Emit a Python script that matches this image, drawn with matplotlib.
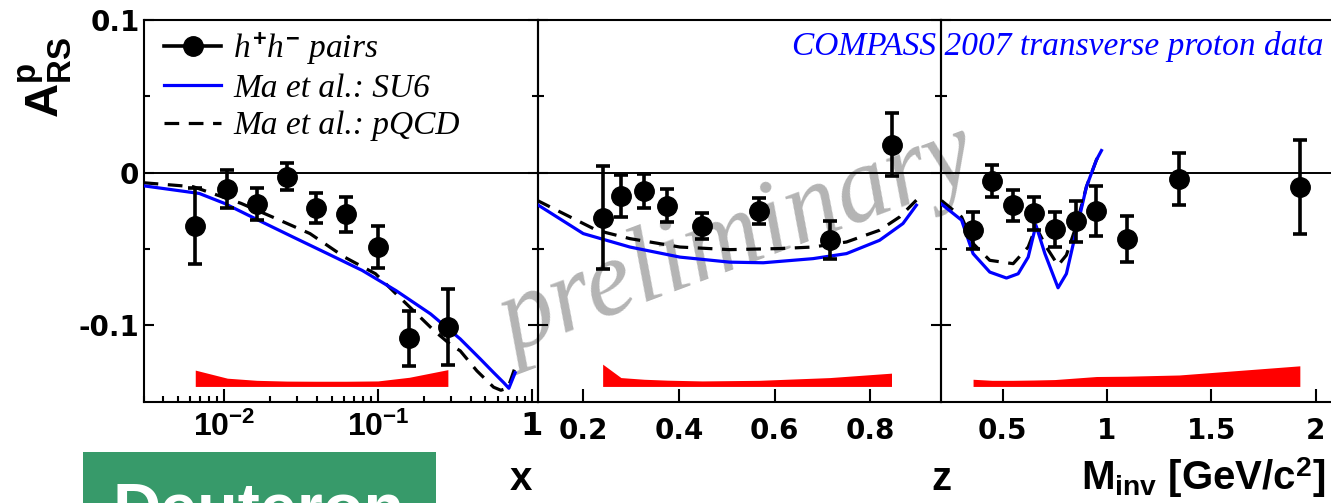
import matplotlib
matplotlib.use('Agg')
import matplotlib.pyplot as plt
from matplotlib.patches import Rectangle
from matplotlib.lines import Line2D
from matplotlib.ticker import FixedLocator, FixedFormatter, LogLocator, NullFormatter

# ---------------- data ----------------
# panel 1 : x
x_bins = [0.0065, 0.0105, 0.0163, 0.0256, 0.0397, 0.0623, 0.100, 0.160, 0.285]
x_asym = [-0.035, -0.0107, -0.0206, -0.0026, -0.023, -0.0272, -0.0487, -0.1083, -0.1009]
x_err = [0.025, 0.0125, 0.0103, 0.009, 0.0097, 0.0115, 0.0137, 0.018, 0.025]
x_syst = [0.0107, 0.0054, 0.0040, 0.0035, 0.0034, 0.0034, 0.0036, 0.0060, 0.0110]
x_su6 = [0.003, 0.0069, 0.010, 0.0167, 0.028, 0.047, 0.079, 0.131, 0.22, 0.343, 0.464, 0.566, 0.657, 0.71, 0.78]
a_su6_x = [-0.0086, -0.0136, -0.020, -0.0311, -0.0421, -0.053, -0.064, -0.0772, -0.0925, -0.1089, -0.1221, -0.131, -0.1375, -0.1412, -0.131]
x_pqcd = [0.003, 0.0063, 0.0129, 0.0205, 0.0362, 0.0607, 0.0965, 0.131, 0.170, 0.232, 0.30, 0.343, 0.44, 0.565, 0.63, 0.70, 0.77]
a_pqcd_x = [-0.0066, -0.0092, -0.0201, -0.0289, -0.0399, -0.0553, -0.0662, -0.0793, -0.0903, -0.1035, -0.113, -0.1167, -0.1298, -0.1405, -0.1425, -0.141, -0.129]

# panel 2 : z
z_bins = [0.2405, 0.2787, 0.327, 0.376, 0.448, 0.5675, 0.715, 0.844]
z_asym = [-0.0294, -0.0153, -0.0118, -0.0217, -0.0349, -0.0252, -0.0443, 0.0182]
z_err = [0.0335, 0.0139, 0.0112, 0.0107, 0.0086, 0.0085, 0.0124, 0.0206]
z_syst = [0.0146, 0.0058, 0.0047, 0.0041, 0.0036, 0.0040, 0.0058, 0.0087]
z_su6 = [0.1027, 0.2, 0.2975, 0.402, 0.506, 0.576, 0.68, 0.75, 0.819, 0.868, 0.896]
a_su6_z = [-0.0206, -0.0399, -0.0487, -0.0553, -0.0586, -0.059, -0.0563, -0.053, -0.0443, -0.0333, -0.0213]
z_pqcd = [0.1027, 0.158, 0.228, 0.2975, 0.402, 0.506, 0.61, 0.68, 0.75, 0.819, 0.861, 0.896]
a_pqcd_z = [-0.018, -0.0267, -0.0377, -0.0432, -0.0487, -0.0504, -0.0497, -0.0487, -0.0454, -0.0377, -0.029, -0.018]

# panel 3 : M_inv
m_bins = [0.359, 0.450, 0.548, 0.650, 0.750, 0.850, 0.950, 1.094, 1.346, 1.924]
m_asym = [-0.0377, -0.0055, -0.0213, -0.0267, -0.0372, -0.0318, -0.0252, -0.0432, -0.0041, -0.0096]
m_err = [0.012, 0.0104, 0.0102, 0.0107, 0.0113, 0.0135, 0.0165, 0.015, 0.0172, 0.0308]
m_syst = [0.0047, 0.0040, 0.0040, 0.0042, 0.0045, 0.0055, 0.0065, 0.0067, 0.0075, 0.0135]
m_su6 = [0.208, 0.304, 0.359, 0.439, 0.519, 0.575, 0.623, 0.66, 0.703, 0.766, 0.806, 0.854, 0.902, 0.95, 0.974]
a_su6_m = [-0.0206, -0.0311, -0.053, -0.0651, -0.069, -0.0662, -0.0553, -0.0344, -0.053, -0.0754, -0.0662, -0.0377, -0.0092, 0.0084, 0.0145]
m_pqcd = [0.208, 0.304, 0.359, 0.439, 0.551, 0.623, 0.66, 0.71, 0.766, 0.806, 0.854, 0.902, 0.95, 0.974]
a_pqcd_m = [-0.0183, -0.029, -0.0464, -0.0574, -0.0596, -0.0487, -0.0355, -0.0487, -0.0607, -0.054, -0.0344, -0.0092, 0.0084, 0.0145]

syst_base = -0.14
ytick_vals = [-0.1, 0, 0.1]
ytick_labels = ['-0.1', '0', '0.1']
x_ticks = [0.01, 0.1, 1]
x_ticklabels = [r'$\mathrm{10^{-2}}$', r'$\mathrm{10^{-1}}$', '1']
z_ticks = [0.2, 0.4, 0.6, 0.8]
z_ticklabels = ['0.2', '0.4', '0.6', '0.8']
m_ticks = [0.5, 1, 1.5, 2]
m_ticklabels = ['0.5', '1', '1.5', '2']

legend_labels = [r'$h^{\mathit{+}}h^{\mathit{-}}$ pairs', 'Ma et al.: SU6', 'Ma et al.: pQCD']

# ---------------- style ----------------
plt.rcParams['font.family'] = 'DejaVu Sans'
plt.rcParams['font.weight'] = 'bold'
plt.rcParams['mathtext.fontset'] = 'custom'
plt.rcParams['mathtext.rm'] = 'Liberation Sans:bold'
plt.rcParams['mathtext.bf'] = 'Liberation Sans:bold'
plt.rcParams['mathtext.sf'] = 'Liberation Sans:bold'
plt.rcParams['mathtext.it'] = 'Liberation Serif:slant=italic:weight=normal'

W, H = 1331, 503
fig = plt.figure(figsize=(W / 100, H / 100), dpi=100)
fig.patch.set_facecolor('white')

def box(l, r, t=20, b=401.7):
    return [l / W, 1 - b / H, (r - l) / W, (b - t) / H]

ax1 = fig.add_axes(box(143.6, 537.5))
ax2 = fig.add_axes(box(537.5, 940.8))
ax3 = fig.add_axes(box(940.8, 1360))

BLUE = '#0000ff'
RED = '#ff0000'
lw_curve = 2.3
dash = (0, (4.6, 3.0))

def draw(ax, xb, ya, ye, ys, xs, ysu6, xp, yp):
    ax.set_facecolor('none')
    ax.axhline(0, color='black', lw=1.4, zorder=2)
    lo = [syst_base] * len(xb)
    hi = [syst_base + s for s in ys]
    ax.fill_between(xb, lo, hi, color=RED, lw=0, zorder=1)
    ax.plot(xp, yp, color='black', lw=lw_curve, linestyle=dash, zorder=3)
    ax.plot(xs, ysu6, color=BLUE, lw=lw_curve, zorder=4)
    ax.errorbar(xb, ya, yerr=ye, fmt='o', color='black', ms=14, elinewidth=2.6,
                capsize=4.8, capthick=2.6, zorder=5)
    ax.set_ylim(-0.15, 0.1)
    ax.yaxis.set_major_locator(FixedLocator(ytick_vals))
    ax.yaxis.set_minor_locator(FixedLocator([-0.05, 0.05]))
    ax.tick_params(axis='y', which='major', direction='in', length=7, width=1.5,
                   left=True, right=True, labelleft=False)
    ax.tick_params(axis='y', which='minor', direction='in', length=4.5, width=1.5,
                   left=True, right=True)
    ax.tick_params(axis='x', which='major', direction='in', length=9.5, width=1.5,
                   top=False, labelsize=20, pad=11)
    ax.tick_params(axis='x', which='minor', direction='in', length=4.5, width=1.5, top=False)
    for sp in ax.spines.values():
        sp.set_linewidth(1.5)

draw(ax1, x_bins, x_asym, x_err, x_syst, x_su6, a_su6_x, x_pqcd, a_pqcd_x)
draw(ax2, z_bins, z_asym, z_err, z_syst, z_su6, a_su6_z, z_pqcd, a_pqcd_z)
draw(ax3, m_bins, m_asym, m_err, m_syst, m_su6, a_su6_m, m_pqcd, a_pqcd_m)

# panel 1 axes
ax1.set_xscale('log')
ax1.set_xlim(0.003, 1.09)
ax1.xaxis.set_major_locator(FixedLocator(x_ticks))
ax1.xaxis.set_major_formatter(FixedFormatter(x_ticklabels))
ax1.xaxis.set_minor_locator(LogLocator(base=10, subs=[2, 3, 4, 5, 6, 7, 8, 9], numticks=20))
ax1.xaxis.set_minor_formatter(NullFormatter())
ax1.tick_params(axis='x', which='major', pad=7, labelsize=23)
ax1.tick_params(axis='y', labelleft=True, labelsize=20, pad=3)
ax1.set_yticklabels(ytick_labels)

# panel 2 axes
ax2.set_xlim(0.1044, 0.947)
ax2.xaxis.set_major_locator(FixedLocator(z_ticks))
ax2.xaxis.set_major_formatter(FixedFormatter(z_ticklabels))
ax2.xaxis.set_minor_locator(FixedLocator([]))

# panel 3 axes
ax3.set_xlim(0.2045, 0.2045 + (1360 - 940.8) / 208.8)
ax3.xaxis.set_major_locator(FixedLocator(m_ticks))
ax3.xaxis.set_major_formatter(FixedFormatter(m_ticklabels))
ax3.xaxis.set_minor_locator(FixedLocator([]))

# legend
handles = [Line2D([], [], color='black', marker='o', ms=14, lw=2.6),
           Line2D([], [], color=BLUE, lw=lw_curve),
           Line2D([], [], color='black', lw=lw_curve, linestyle=dash)]
leg = ax1.legend(handles, legend_labels, loc='upper left', bbox_to_anchor=(0.053, 0.972),
                 frameon=False, borderpad=0, borderaxespad=0, handlelength=1.71,
                 handletextpad=0.36, labelspacing=0.2,
                 prop={'family': 'Liberation Serif', 'style': 'italic', 'weight': 'normal', 'size': 24})

# texts
fig.text(1323 / W, 1 - 55 / H, 'COMPASS 2007 transverse proton data', color=BLUE,
         family='Liberation Serif', style='italic', weight='normal', fontsize=24,
         ha='right', va='baseline')
fig.text(738 / W, 1 - 242 / H, 'preliminary', color='#b4b4b4', family='Liberation Serif',
         style='italic', weight='normal', fontsize=77, rotation=20.5, ha='center', va='center',
         zorder=-5)
fig.text(45 / W, 1 - 77 / H, r'$\mathrm{A^{p}_{RS}}$', rotation=90, fontsize=34,
         ha='center', va='center')
fig.text(521 / W, 1 - 490 / H, 'x', family='Liberation Sans', fontsize=29,
         ha='center', va='baseline')
fig.text(941 / W, 1 - 490 / H, 'z', family='Liberation Sans', fontsize=29,
         ha='center', va='baseline')
fig.text(1325 / W, 1 - 490 / H, r'M$_{\mathrm{inv}}$ [GeV/c$^{\mathrm{2}}$]',
         family='Liberation Sans', fontsize=29, ha='right', va='baseline')

# Deuteron tag
fig.patches.append(Rectangle((82.7 / W, 0), (436 - 82.7) / W, (503 - 452.3) / H,
                             transform=fig.transFigure, facecolor='#379a6a', edgecolor='none',
                             zorder=10))
fig.text(113 / W, 1 - 530 / H, 'Deuteron', color='white', family='Liberation Sans',
         weight='bold', fontsize=48, ha='left', va='baseline', zorder=11)

fig.savefig('out.png', dpi=100)
